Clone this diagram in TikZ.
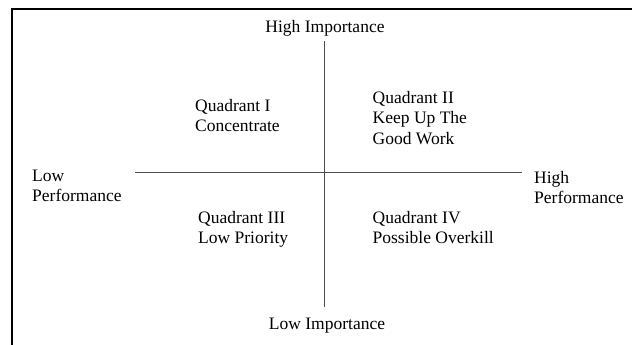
\documentclass[tikz,border=0pt]{standalone}
\usepackage{fontspec}
\setmainfont{Liberation Serif}
\begin{document}
\begin{tikzpicture}[x=1pt,y=-1pt,font=\fontsize{17.5}{20.5}\selectfont,
  lbl/.style={anchor=base west,align=left,inner sep=0pt}]
  \useasboundingbox (0,0) rectangle (632,345);
  \draw[line width=2pt] (12,345) -- (12,9) -- (632,9);
  \coordinate (top) at (324.5,41);
  \coordinate (bot) at (324.5,307);
  \coordinate (lft) at (135,172.5);
  \coordinate (rgt) at (521.5,172.5);
  \draw[line width=1.5pt,black!70] (top) -- (bot);
  \draw[line width=1.5pt,black!70] (lft) -- (rgt);
  \node[anchor=base,inner sep=0pt] (hi) at (325,32.5) {High Importance};
  \node[anchor=base,inner sep=0pt] (lo) at (327,329) {Low Importance};
  % anchors are at the last line
  \node[lbl] (lp) at (32,201.5) {Low\\Performance};
  \node[lbl] (hp) at (534,203.5) {High\\Performance};
  \node[lbl] (q1) at (195,131.5) {Quadrant I\\Concentrate};
  \node[lbl] (q2) at (372.5,144) {Quadrant II\\Keep Up The\\Good Work};
  \node[lbl] (q3) at (198,243.5) {Quadrant III\\Low Priority};
  \node[lbl] (q4) at (372.5,243.5) {Quadrant IV\\Possible Overkill};
\end{tikzpicture}
\end{document}
